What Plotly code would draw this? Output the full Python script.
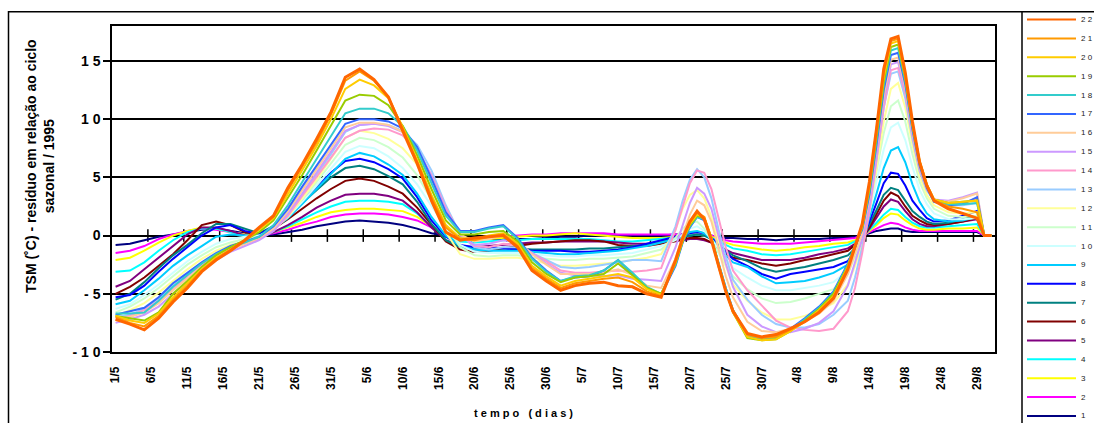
import plotly.graph_objects as go

# day index 0 = 1/5 ... 122 = 31/8
KNOT_DAYS = (list(range(0, 77, 2)) + list(range(78, 87)) + list(range(88, 101, 2))
             + list(range(102, 115)) + [116, 118, 120, 121, 122])

TICK_DAYS = list(range(0, 121, 5))
TICK_LABELS = ["1/5", "6/5", "11/5", "16/5", "21/5", "26/5", "31/5", "5/6", "10/6", "15/6",
               "20/6", "25/6", "30/6", "5/7", "10/7", "15/7", "20/7", "25/7", "30/7", "4/8",
               "9/8", "14/8", "19/8", "24/8", "29/8"]
AXIS_TICK_BOUNDARIES = [d - 0.5 for d in range(5, 121, 5)]

S01 = [-0.8,-0.7,-0.4,-0.1,0.1,0.3,0.5,0.6,0.4,0.2,0.0,
       0.1,0.3,0.5,0.8,1.0,1.2,1.3,1.2,1.1,0.9,0.6,0.2,0.0,-0.2,-0.3,
       -0.3,-0.3,-0.3,-0.3,-0.2,-0.1,-0.1,0.0,0.0,0.0,0.0,0.0,0.0,
       0.1,0.1,0.2,0.2,0.1,0.0,-0.1,-0.2,-0.2,
       -0.3,-0.3,-0.4,-0.3,-0.3,-0.3,-0.2,
       -0.2,-0.1,0.0,0.2,0.4,0.5,0.6,0.6,0.4,0.3,0.3,0.3,0.3,
       0.3,0.3,0.3,0,0]
S02 = [-1.5,-1.3,-0.9,-0.3,0.1,0.4,0.6,0.5,0.3,0.1,0.0,
       0.2,0.5,0.9,1.2,1.6,1.8,1.9,1.9,1.8,1.6,1.3,0.7,0.1,-0.2,-0.3,
       -0.2,-0.1,0.0,0.1,0.1,0.2,0.2,0.2,0.2,0.1,0.1,0.1,0.1,
       0.1,0.1,0.2,0.2,0.1,0.0,-0.2,-0.4,-0.5,
       -0.6,-0.7,-0.7,-0.7,-0.6,-0.5,-0.4,
       -0.3,-0.2,0.0,0.3,0.6,0.9,1.1,1.0,0.7,0.5,0.4,0.4,0.4,
       0.4,0.4,0.4,0,0]
S03 = [-2.1,-1.9,-1.3,-0.6,0.0,0.4,0.7,0.6,0.3,0.1,0.0,
       0.3,0.7,1.1,1.6,2.0,2.2,2.3,2.3,2.2,2.1,1.6,0.8,0.1,-0.3,-0.4,
       -0.3,-0.2,-0.1,0.0,0.0,0.1,0.2,0.1,0.0,-0.1,-0.2,-0.2,-0.2,
       -0.1,0.0,0.1,0.1,0.0,-0.1,-0.4,-0.6,-0.8,
       -1.0,-1.2,-1.3,-1.2,-1.0,-0.9,-0.7,
       -0.6,-0.4,-0.1,0.4,0.9,1.5,1.9,1.8,1.3,0.9,0.6,0.5,0.5,
       0.6,0.6,0.7,0,0]
S04 = [-3.1,-3.0,-2.3,-1.3,-0.4,0.3,0.6,0.6,0.3,0.0,-0.1,
       0.3,0.8,1.4,2.0,2.5,2.9,3.0,3.0,2.9,2.7,1.9,0.8,-0.1,-0.5,-0.6,
       -0.5,-0.4,-0.4,-0.3,-0.3,-0.3,-0.3,-0.3,-0.4,-0.5,-0.5,-0.4,-0.3,
       -0.2,-0.1,0.0,0.1,0.0,-0.2,-0.5,-0.8,-1.1,
       -1.3,-1.6,-1.7,-1.6,-1.4,-1.2,-1.0,
       -0.8,-0.5,-0.1,0.5,1.1,1.8,2.3,2.2,1.6,1.1,0.8,0.7,0.7,
       0.8,0.9,1.0,0,0]
S05 = [-4.4,-3.9,-2.9,-1.9,-0.9,0.1,0.7,0.7,0.4,0.0,-0.1,
       0.3,0.9,1.6,2.4,3.0,3.5,3.6,3.6,3.4,3.0,2.0,0.7,-0.4,-0.9,-1.0,
       -0.9,-0.8,-0.7,-0.6,-0.6,-0.5,-0.5,-0.5,-0.5,-0.6,-0.7,-0.7,-0.6,
       -0.5,-0.4,-0.3,-0.3,-0.4,-0.6,-0.9,-1.2,-1.5,
       -1.8,-2.1,-2.1,-2.1,-1.9,-1.6,-1.4,
       -1.1,-0.7,-0.2,0.6,1.5,2.5,3.1,2.9,2.1,1.4,1.0,0.8,0.8,
       1.0,1.2,1.4,0,0]
S06 = [-5.0,-4.4,-3.6,-2.6,-1.6,-0.4,0.9,1.2,0.9,0.3,0.1,
       0.6,1.4,2.3,3.2,4.0,4.7,4.9,4.7,4.2,3.6,2.4,0.9,-0.5,-1.2,-1.4,
       -1.3,-1.1,-0.9,-0.7,-0.6,-0.5,-0.4,-0.4,-0.5,-0.8,-0.9,-0.9,-0.7,
       -0.5,-0.3,-0.2,-0.2,-0.3,-0.6,-1.1,-1.6,-1.9,
       -2.1,-2.4,-2.6,-2.4,-2.1,-1.9,-1.6,
       -1.3,-0.8,-0.2,0.7,1.8,3.0,3.7,3.4,2.5,1.7,1.3,1.0,0.9,
       1.0,1.2,1.5,0,0]
S07 = [-5.5,-5.0,-4.0,-2.8,-1.7,-0.8,0.2,1.0,1.0,0.6,0.2,
       0.8,1.7,2.8,3.9,5.0,5.8,6.0,5.7,5.1,4.4,2.9,1.0,-0.4,-1.0,-1.1,
       -1.1,-1.1,-1.1,-1.2,-1.2,-1.2,-1.2,-1.1,-1.1,-1.0,-0.9,-0.8,-0.5,
       -0.3,-0.1,0.0,0.1,0.0,-0.3,-0.8,-1.3,-1.7,
       -2.2,-2.8,-3.1,-2.9,-2.7,-2.4,-2.1,
       -1.7,-1.1,-0.3,0.9,2.2,3.5,4.1,3.9,3.0,2.1,1.6,1.2,1.0,
       1.1,1.4,1.7,0,0]
S08 = [-5.3,-5.1,-4.3,-3.1,-2.0,-1.0,0.0,0.7,0.9,0.4,0.1,
       0.8,1.8,3.0,4.2,5.4,6.4,6.6,6.3,5.7,4.9,3.3,1.3,-0.1,-0.8,-1.0,
       -1.0,-1.1,-1.2,-1.3,-1.3,-1.3,-1.4,-1.4,-1.3,-1.2,-1.0,-0.7,-0.4,
       -0.1,0.1,0.2,0.3,0.2,-0.2,-0.8,-1.4,-2.0,
       -2.6,-3.3,-3.7,-3.3,-3.1,-2.9,-2.7,
       -2.2,-1.3,-0.2,1.2,2.8,4.5,5.4,5.3,4.3,3.0,2.2,1.5,1.2,
       1.3,1.7,2.1,0,0]
S09 = [-5.9,-5.6,-4.7,-3.7,-2.6,-1.7,-0.9,-0.1,0.1,0.0,0.0,
       0.6,1.5,2.7,4.0,5.3,6.6,7.1,6.8,6.1,5.2,3.6,1.6,0.0,-0.9,-1.2,
       -1.3,-1.3,-1.3,-1.4,-1.5,-1.6,-1.6,-1.5,-1.4,-1.3,-1.1,-0.9,-0.6,
       -0.3,0.0,0.3,0.4,0.2,-0.3,-1.0,-1.7,-2.3,
       -2.7,-3.5,-4.1,-4.0,-3.9,-3.6,-3.2,
       -2.5,-1.8,-0.5,1.5,3.6,5.8,7.3,7.6,6.3,4.4,2.9,1.9,1.4,
       1.2,1.3,1.6,0,0]
S10 = [-6.3,-5.9,-5.1,-4.2,-3.2,-2.2,-1.4,-0.7,-0.3,-0.1,0.0,
       0.6,1.6,2.9,4.3,5.8,7.2,7.7,7.5,6.8,5.8,4.4,2.6,0.7,-0.8,-1.4,
       -1.5,-1.5,-1.5,-1.6,-1.7,-1.8,-1.8,-1.7,-1.7,-1.6,-1.5,-1.2,-0.9,
       -0.4,0.1,0.6,0.8,0.4,-0.3,-1.2,-2.0,-2.8,
       -3.6,-4.3,-4.7,-4.7,-4.5,-4.3,-4.0,
       -3.0,-1.6,-0.2,2.0,4.6,7.4,9.3,9.7,8.2,5.9,3.9,2.7,1.9,
       1.4,1.4,1.5,0,0]
S11 = [-6.6,-6.1,-5.4,-4.5,-3.5,-2.5,-1.7,-1.0,-0.6,-0.3,-0.1,
       0.6,1.7,3.1,4.6,6.2,7.8,8.4,8.2,7.6,6.7,5.2,3.1,0.9,-1.0,-1.7,
       -1.8,-1.7,-1.7,-1.9,-2.0,-2.1,-2.1,-2.0,-2.0,-1.9,-1.8,-1.5,-1.2,
       -0.2,0.6,1.1,1.2,0.6,-0.4,-1.5,-2.6,-3.5,
       -4.6,-5.4,-5.8,-5.7,-5.4,-5.0,-4.6,
       -3.3,-1.8,-0.2,2.3,5.4,8.8,11.1,11.6,9.8,7.0,4.6,3.2,2.3,
       1.7,1.6,1.7,0,0]
S12 = [-6.9,-6.4,-5.8,-4.9,-3.9,-2.9,-2.0,-1.3,-0.8,-0.5,-0.2,
       0.5,1.6,3.2,4.8,6.6,8.4,9.0,8.8,8.3,7.5,6.1,3.0,0.3,-1.6,-2.0,
       -2.0,-1.9,-1.9,-2.1,-2.4,-2.6,-2.6,-2.5,-2.4,-2.3,-2.1,-1.9,-1.6,
       0.5,2.3,3.5,3.9,3.2,1.6,-0.6,-2.6,-4.2,
       -5.6,-6.6,-7.2,-7.2,-6.9,-6.4,-5.8,
       -4.2,-2.6,-0.7,2.2,5.8,9.8,12.6,13.1,11.0,7.8,5.1,3.5,2.6,
       2.0,1.9,2.0,0,0]
S13 = [-7.0,-6.8,-6.3,-5.4,-4.3,-3.3,-2.4,-1.6,-1.0,-0.6,-0.2,
       0.5,1.8,3.5,5.2,7.0,8.9,9.5,9.6,9.5,9.0,7.8,5.6,2.6,0.1,-1.0,
       -1.2,-1.0,-1.0,-1.5,-2.1,-2.7,-2.8,-2.7,-2.5,-2.3,-2.1,-2.1,-2.2,
       0.8,3.0,4.8,5.7,5.0,3.2,0.5,-1.8,-3.8,
       -5.5,-6.8,-7.6,-7.9,-7.9,-7.6,-6.8,
       -5.6,-3.6,-1.0,2.4,6.6,11.0,13.9,14.1,11.8,8.3,5.5,3.9,3.0,
       2.6,2.6,2.8,0,0]
S14 = [-7.2,-6.9,-6.4,-5.6,-4.6,-3.5,-2.5,-1.7,-1.1,-0.7,-0.3,
       0.4,1.7,3.4,5.0,6.7,8.4,9.0,9.2,9.1,8.6,7.4,5.2,2.4,0.1,-0.9,
       -1.0,-0.7,-0.8,-1.5,-2.2,-3.0,-3.2,-3.2,-3.1,-3.0,-3.1,-3.0,-2.8,
       0.5,2.5,4.5,5.6,5.4,4.0,1.5,-1.0,-3.0,
       -4.7,-6.0,-7.3,-7.9,-8.1,-8.2,-8.0,
       -6.5,-4.5,-1.5,2.0,6.5,11.0,14.2,14.4,12.2,8.6,5.7,4.0,3.1,
       2.7,2.8,3.2,0,0]
S15 = [-7.5,-7.2,-6.8,-6.1,-5.0,-4.0,-3.0,-2.1,-1.4,-0.9,-0.4,
       0.4,1.9,3.6,5.4,7.2,9.0,9.5,9.6,9.4,8.9,7.5,5.1,2.2,0.0,-0.8,
       -0.7,-0.4,-0.6,-1.5,-2.4,-3.2,-3.4,-3.4,-3.5,-3.4,-3.7,-3.8,-3.9,
       -1.0,1.0,2.8,4.1,3.6,2.3,0.0,-2.4,-4.4,
       -6.8,-7.8,-8.3,-8.3,-8.0,-7.5,-6.5,
       -4.3,-2.4,-0.3,2.6,6.8,11.5,14.7,14.9,12.4,8.7,5.8,4.2,3.1,
       3.0,3.3,3.7,0,0]
S16 = [-7.3,-7.0,-6.6,-5.8,-4.7,-3.7,-2.7,-1.9,-1.2,-0.7,-0.2,
       0.6,2.1,3.9,5.7,7.5,9.3,9.7,9.7,9.5,8.9,7.4,4.9,2.0,0.1,-0.5,
       -0.3,0.0,-0.5,-1.6,-2.5,-3.3,-3.3,-3.3,-3.2,-2.9,-3.4,-4.3,-4.5,
       -2.0,0.0,1.8,3.0,2.6,1.2,-1.2,-3.5,-5.3,
       -7.4,-8.2,-8.3,-8.0,-7.4,-6.7,-5.6,
       -3.3,-1.6,0.2,3.2,7.4,12.0,15.1,15.3,12.7,8.9,5.9,4.1,3.0,
       2.9,3.2,3.6,0,0]
S17 = [-6.8,-6.5,-6.2,-5.3,-4.1,-3.2,-2.3,-1.5,-0.9,-0.5,-0.1,
       0.8,2.3,4.2,6.0,7.9,9.6,10.0,10.0,9.8,9.2,7.6,4.9,2.0,0.4,0.4,
       0.7,0.9,-0.2,-1.9,-3.0,-3.9,-3.6,-3.5,-3.0,-2.1,-3.3,-4.5,-5.1,
       -2.6,-0.6,0.7,1.6,1.3,-0.3,-2.5,-4.5,-6.4,
       -8.6,-8.8,-8.7,-8.0,-7.1,-6.1,-4.8,
       -2.4,-0.8,0.5,3.5,7.8,12.5,15.5,15.7,13.0,9.1,6.0,4.1,2.9,
       2.6,2.7,3.3,0,0]
S18 = [-6.7,-6.7,-6.6,-5.6,-4.4,-3.4,-2.4,-1.6,-1.0,-0.6,-0.1,
       0.9,2.6,4.6,6.6,8.6,10.5,10.9,10.9,10.5,9.4,7.3,4.5,1.7,0.3,0.3,
       0.6,0.8,-0.3,-2.0,-3.1,-3.9,-3.5,-3.4,-3.0,-2.1,-3.2,-4.4,-5.0,
       -2.5,-0.5,0.8,1.6,1.4,-0.2,-2.4,-4.5,-6.4,
       -8.6,-8.9,-8.8,-8.1,-7.2,-6.2,-4.9,
       -2.5,-0.8,0.6,3.8,8.2,12.9,15.9,16.1,13.3,9.3,6.2,4.3,3.0,
       2.7,2.7,2.8,0,0]
S19 = [-6.9,-7.1,-7.3,-6.6,-5.0,-3.9,-2.7,-1.7,-1.0,-0.4,0.3,
       1.3,3.2,5.2,7.3,9.4,11.6,12.1,12.0,11.2,9.4,6.9,4.0,1.3,0.1,0.1,
       0.3,0.4,-0.5,-2.3,-3.3,-4.0,-3.6,-3.5,-3.3,-2.4,-3.4,-4.5,-5.0,
       -2.4,-0.5,0.9,1.7,1.5,-0.2,-2.5,-4.7,-6.6,
       -8.8,-9.0,-8.9,-8.2,-7.3,-6.3,-5.0,
       -2.6,-0.8,0.7,4.0,8.5,13.2,16.2,16.4,13.5,9.5,6.4,4.4,3.1,
       2.8,2.9,3.0,0,0]
S20 = [-6.9,-7.3,-7.5,-6.7,-5.3,-4.1,-2.9,-1.9,-1.2,-0.4,0.5,
       1.5,3.6,5.6,7.7,10.0,12.6,13.4,12.9,11.8,9.3,6.5,3.5,0.9,-0.2,-0.3,
       0.0,0.2,-0.7,-2.6,-3.5,-4.3,-3.9,-3.7,-3.5,-3.3,-3.6,-4.6,-5.1,
       -2.3,-0.4,1.0,1.8,1.6,-0.2,-2.6,-4.8,-6.6,
       -8.7,-9.0,-8.9,-8.2,-7.4,-6.4,-5.2,
       -2.7,-0.9,0.8,4.2,8.8,13.6,16.5,16.7,13.7,9.6,6.4,4.4,3.1,
       2.8,2.9,3.0,0,0]
S21 = [-7.0,-7.5,-7.8,-6.9,-5.5,-4.3,-3.0,-2.0,-1.2,-0.4,0.6,
       1.6,3.9,5.9,8.0,10.4,13.3,14.1,13.3,11.9,9.2,6.3,3.3,0.7,-0.3,-0.4,
       -0.1,0.1,-0.9,-2.8,-3.7,-4.5,-4.1,-3.9,-3.7,-3.6,-4.0,-4.8,-5.2,
       -2.2,-0.3,1.2,2.0,1.6,-0.3,-2.7,-4.7,-6.4,
       -8.5,-8.8,-8.7,-8.1,-7.4,-6.5,-5.3,
       -2.8,-0.9,0.9,4.4,9.0,14.0,16.7,16.9,13.8,9.7,6.3,4.3,3.0,
       2.5,2.3,2.0,0,0]
S22 = [-7.2,-7.6,-8.1,-7.1,-5.7,-4.5,-3.1,-2.1,-1.3,-0.4,0.7,
       1.7,4.1,6.1,8.3,10.6,13.6,14.3,13.4,11.9,9.0,6.2,3.0,0.3,-0.4,-0.2,
       -0.1,0.0,-1.0,-3.0,-3.9,-4.7,-4.3,-4.1,-4.0,-4.3,-4.4,-5.0,-5.3,
       -2.1,-0.2,1.2,2.1,1.4,-0.4,-2.7,-4.8,-6.5,
       -8.4,-8.7,-8.5,-8.0,-7.4,-6.6,-5.4,
       -2.9,-1.0,1.0,4.6,9.2,14.3,16.9,17.1,14.0,9.8,6.3,4.3,3.0,
       2.3,1.9,1.5,0,0]

SERIES = [S01, S02, S03, S04, S05, S06, S07, S08, S09, S10, S11,
          S12, S13, S14, S15, S16, S17, S18, S19, S20, S21, S22]
NAMES = [str(k) for k in range(1, 23)]
COLORS = ["#000080", "#FF00FF", "#FFFF00", "#00FFFF", "#800080", "#800000",
          "#008080", "#0000FF", "#00CCFF", "#CCFFFF", "#CCFFCC", "#FFFF99",
          "#99CCFF", "#FF99CC", "#CC99FF", "#FFCC99", "#3366FF", "#33CCCC",
          "#99CC00", "#FFCC00", "#FF9900", "#FF6600"]

for s in SERIES:
    assert len(s) == len(KNOT_DAYS), (len(s), len(KNOT_DAYS))

FONT = "Arial, Liberation Sans, sans-serif"
W, H = 1094, 423
ML, MR, MT, MB = 112, 99, 26, 71
PW, PH = W - ML - MR, H - MT - MB


def px_x(px):
    return (px - ML) / PW


def px_y(py):
    return (H - MB - py) / PH


fig = go.Figure()

# category-axis tick marks sitting on the zero line
fig.add_trace(go.Scatter(
    x=AXIS_TICK_BOUNDARIES, y=[0] * len(AXIS_TICK_BOUNDARIES), mode="markers",
    marker=dict(symbol="line-ns", size=9, line=dict(color="black", width=1.5)),
    showlegend=False, hoverinfo="skip"))

for name, col, vals in zip(NAMES, COLORS, SERIES):
    w = 3 if name == "22" else 2
    fig.add_trace(go.Scatter(
        x=KNOT_DAYS, y=vals, mode="lines", name=name, showlegend=False,
        line=dict(color=col, width=w)))

# legend panel drawn at the right, entries 22 (top) .. 1 (bottom)
shapes = [
    dict(type="rect", xref="paper", yref="paper",
         x0=px_x(8.5), x1=px_x(1110), y0=px_y(440), y1=px_y(11.7),
         line=dict(color="black", width=1.5), layer="below"),
    dict(type="line", xref="paper", yref="paper",
         x0=px_x(1022), x1=px_x(1022), y0=px_y(440), y1=px_y(11.7),
         line=dict(color="black", width=1.5)),
]
annotations = [
    dict(text="TSM (˚C) - resíduo em relação ao ciclo<br>sazonal / 1995",
         xref="paper", yref="paper", x=px_x(40), y=px_y(166), textangle=-90,
         showarrow=False, font=dict(size=14, family=FONT, weight="bold"),
         xanchor="center", yanchor="middle"),
    dict(text="t e m p o   ( d i a s )", xref="paper", yref="paper",
         x=px_x(523), y=px_y(413), showarrow=False,
         font=dict(size=11, family=FONT, weight="bold"),
         xanchor="center", yanchor="middle"),
]
for k, (name, col) in enumerate(zip(NAMES, COLORS)):
    yc = 19.5 + (21 - k) * 18.88
    shapes.append(dict(type="line", xref="paper", yref="paper",
                       x0=px_x(1027), x1=px_x(1076), y0=px_y(yc), y1=px_y(yc),
                       line=dict(color=col, width=2)))
    annotations.append(dict(text=" ".join(name), xref="paper", yref="paper",
                            x=px_x(1079), y=px_y(yc), xanchor="left", yanchor="middle",
                            showarrow=False, font=dict(size=8, family=FONT, color="#222")))

fig.update_layout(
    width=W, height=H,
    margin=dict(l=ML, r=MR, t=MT, b=MB),
    paper_bgcolor="white", plot_bgcolor="white",
    font=dict(family=FONT, color="black"),
    showlegend=False,
    shapes=shapes, annotations=annotations,
)
fig.update_xaxes(
    range=[-0.5, 122.5], tickmode="array", tickvals=TICK_DAYS, ticktext=TICK_LABELS,
    tickangle=-90, ticks="", showgrid=False, zeroline=False,
    showline=True, linecolor="black", linewidth=1.5, mirror=True,
    tickfont=dict(size=12, family=FONT, weight="bold"), ticklabelstandoff=8)
fig.update_yaxes(
    range=[-10, 18], tickmode="array", tickvals=[-10, -5, 0, 5, 10, 15],
    ticktext=["- 1 0", "- 5", "0", "5", "1 0", "1 5"],
    ticks="outside", ticklen=7, tickcolor="black", tickwidth=1.5,
    showgrid=True, gridcolor="black", gridwidth=1.5,
    zeroline=True, zerolinecolor="black", zerolinewidth=1.5,
    showline=True, linecolor="black", linewidth=1.5, mirror=True,
    tickfont=dict(size=14, family=FONT, weight="bold"))

fig.write_html("out.html")
